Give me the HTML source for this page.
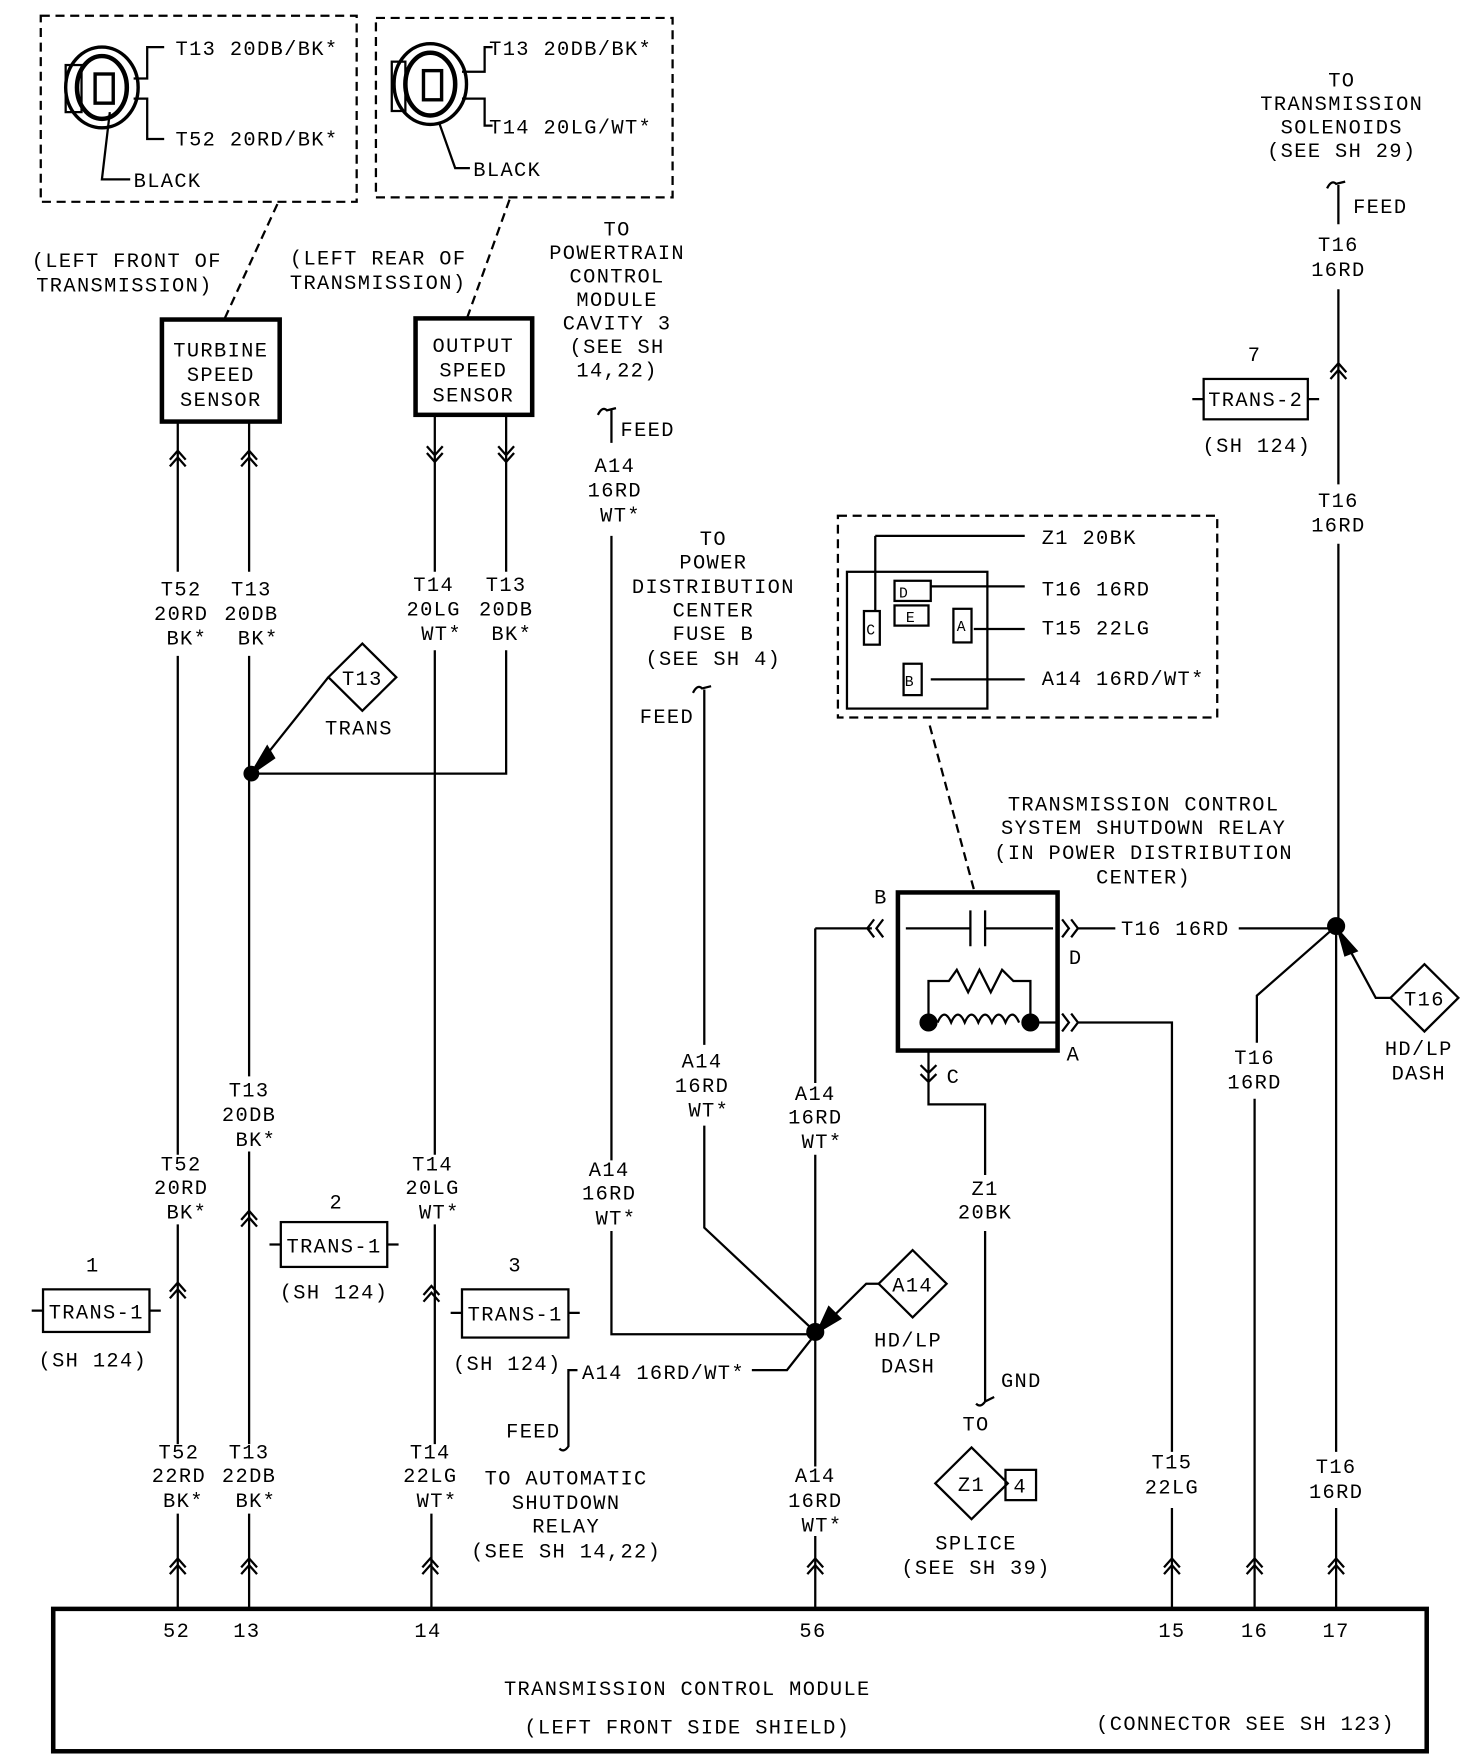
<!DOCTYPE html>
<html><head><meta charset="utf-8"><style>
html,body{margin:0;padding:0;background:#fff;}
svg{display:block;}
text{font-family:"Liberation Mono",monospace;font-size:18px;fill:#000;letter-spacing:1.2px;}
.c{text-anchor:middle;}
</style></head><body>
<svg width="1472" height="1758" viewBox="0 0 1300 1568" preserveAspectRatio="none" xmlns="http://www.w3.org/2000/svg">
<g fill="none" stroke="#000" stroke-width="2">
<!-- top dashed boxes -->
<rect x="36" y="14" width="279" height="166" stroke-dasharray="8,5"/>
<rect x="332" y="16" width="262" height="160" stroke-dasharray="8,5"/>
<path d="M245 182 L198 285 M450 178 L412 285" stroke-dasharray="8,5"/>
<!-- connector 1 -->
<rect x="58" y="58" width="14" height="42"/>
<ellipse cx="90" cy="78" rx="32" ry="36" stroke-width="3"/>
<ellipse cx="90" cy="78" rx="22" ry="28" stroke-width="4"/>
<rect x="84" y="66" width="16" height="26" stroke-width="3"/>
<path d="M118 70 H130 V42 H145 M118 88 H130 V124 H145 M97 100 L90 160 H115"/>
<!-- connector 2 -->
<rect x="346" y="55" width="12" height="44"/>
<ellipse cx="380" cy="75" rx="32" ry="36" stroke-width="3"/>
<ellipse cx="380" cy="75" rx="22" ry="28" stroke-width="4"/>
<rect x="374" y="63" width="16" height="26" stroke-width="3"/>
<path d="M408 64 H428 V42 H435 M408 88 H428 V112 H435 M388 110 L402 150 H415"/>
<!-- sensor boxes -->
<rect x="143" y="285" width="104" height="91" stroke-width="4"/>
<rect x="367" y="284" width="103" height="86" stroke-width="4"/>
<!-- sensor wires -->
<path d="M157 376 V510 M157 585 V1030 M157 1092 V1288 M157 1350 V1435"/>
<path d="M220 376 V510 M220 585 V960 M220 1027 V1288 M220 1350 V1435"/>
<path d="M384 370 V510 M384 580 V1030 M384 1092 V1288 M381 1350 V1435"/>
<path d="M447 370 V510 M447 580 V690 H222"/>
<circle cx="222" cy="690" r="6" fill="#000"/>
<!-- T13 diamond -->
<path d="M320 574 L350 604 L320 634 L290 604 Z"/>
<path d="M290 604 L230 680"/>
<path d="M222 690 L236 666 L242 676 Z" fill="#000"/>
<!-- chevrons upper -->
<path d="M150 410 L157 402 L164 410 M150 416 L157 408 L164 416 M213 410 L220 402 L227 410 M213 416 L220 408 L227 416"/>
<path d="M377 398 L384 406 L391 398 M377 404 L384 412 L391 404 M440 398 L447 406 L454 398 M440 404 L447 412 L454 404"/>
<!-- lower chevrons -->
<path d="M150 1152 L157 1144 L164 1152 M150 1158 L157 1150 L164 1158"/>
<path d="M213 1088 L220 1080 L227 1088 M213 1094 L220 1086 L227 1094"/>
<path d="M374 1155 L381 1147 L388 1155 M374 1161 L381 1153 L388 1161"/>
<path d="M150 1398 L157 1390 L164 1398 M150 1404 L157 1396 L164 1404 M213 1398 L220 1390 L227 1398 M213 1404 L220 1396 L227 1404 M373 1398 L380 1390 L387 1398 M373 1404 L380 1396 L387 1404 M713 1398 L720 1390 L727 1398 M713 1404 L720 1396 L727 1404 M1028 1398 L1035 1390 L1042 1398 M1028 1404 L1035 1396 L1042 1404 M1101 1398 L1108 1390 L1115 1398 M1101 1404 L1108 1396 L1115 1404 M1173 1398 L1180 1390 L1187 1398 M1173 1404 L1180 1396 L1187 1404"/>
<!-- TRANS boxes -->
<rect x="38" y="1150" width="94" height="38"/><path d="M28 1169 H38 M132 1169 H142"/>
<rect x="248" y="1090" width="94" height="40"/><path d="M238 1110 H248 M342 1110 H352"/>
<rect x="408" y="1150" width="94" height="43"/><path d="M398 1171 H408 M502 1171 H512"/>
<rect x="1063" y="338" width="92" height="36"/><path d="M1053 356 H1063 M1155 356 H1165"/>
<!-- TCM box -->
<rect x="47" y="1435" width="1213" height="127" stroke-width="4"/>
<!-- PCM feed line -->
<path d="M528 370 Q532 362 536 366 L544 364 M540 365 V395 M540 478 V1035 M540 1098 V1190 H720"/>
<!-- PDC feed -->
<path d="M612 618 Q616 610 620 614 L628 612 M622 615 V932 M622 1004 V1095 L720 1188"/>
<!-- A14 vertical -->
<path d="M720 828 V966 M720 1030 V1308 M720 1370 V1435 M720 828 H770"/>
<circle cx="720" cy="1188" r="7" fill="#000"/>
<path d="M806 1115 L836 1145 L806 1175 L776 1145 Z"/>
<path d="M776 1145 H765 L728 1182"/>
<path d="M722 1188 L732 1166 L742 1176 Z" fill="#000"/>
<path d="M720 1190 L695 1222 H664"/>
<path d="M510 1222 H502 V1290 Q498 1296 494 1292"/>
<!-- relay -->
<rect x="793" y="796" width="141" height="141" stroke-width="4"/>
<path d="M800 828 H857 M870 828 H930 M857 812 V844 M870 812 V844"/>
<path d="M820 912 V875 H838 L845 865 L855 885 L865 865 L875 885 L885 865 L895 875 H910 V912"/>
<path d="M828 912 q6 -14 12 0 q6 -14 12 0 q6 -14 12 0 q6 -14 12 0 q6 -14 12 0 q6 -14 12 0"/>
<circle cx="820" cy="912" r="7" fill="#000"/><circle cx="910" cy="912" r="7" fill="#000"/>
<path d="M910 912 H935"/>
<path d="M772 820 L766 828 L772 836 M780 820 L774 828 L780 836"/>
<path d="M938 820 L944 828 L938 836 M946 820 L952 828 L946 836 M952 828 H985 M1094 828 H1178"/>
<path d="M938 904 L944 912 L938 920 M946 904 L952 912 L946 920 M952 912 H1035 V1295 M1035 1345 V1435"/>
<path d="M813 950 L820 957 L827 950 M813 958 L820 965 L827 958 M820 937 V985 H870 V1048 M870 1098 V1250 Q866 1256 862 1252 M870 1250 L878 1246"/>
<!-- relay detail dashed box -->
<rect x="740" y="460" width="335" height="180" stroke-dasharray="8,5"/>
<path d="M860 793 L820 643" stroke-dasharray="8,5"/>
<rect x="748" y="510" width="124" height="122"/>
<path d="M773 478 H905 M773 478 V545"/>
<rect x="763" y="545" width="14" height="30"/>
<rect x="790" y="518" width="32" height="18"/><rect x="790" y="540" width="30" height="18"/>
<path d="M822 523 H905 M860 561 H905 M822 606 H905"/>
<rect x="842" y="543" width="16" height="30"/>
<rect x="798" y="592" width="16" height="28"/>
<!-- right column -->
<path d="M1172 168 Q1176 160 1180 164 L1188 162 M1182 165 V200 M1182 258 V432 M1182 485 V826 M1180 826 V1295 M1180 1345 V1435"/>
<path d="M1175 332 L1182 324 L1189 332 M1175 338 L1182 330 L1189 338"/>
<circle cx="1180" cy="826" r="7" fill="#000"/>
<path d="M1180 826 L1110 888 V930 M1108 980 V1435"/>
<path d="M1258 860 L1288 890 L1258 920 L1228 890 Z"/>
<path d="M1228 890 H1215 L1186 836"/>
<path d="M1182 830 L1198 848 L1188 852 Z" fill="#000"/>
<!-- splice diamond -->
<path d="M858 1291 L890 1323 L858 1355 L826 1323 Z"/>
<rect x="888" y="1311" width="27" height="27"/>
</g>
<!-- TEXT -->
<text x="155" y="49">T13 20DB/BK*</text>
<text x="155" y="130">T52 20RD/BK*</text>
<text x="118" y="167">BLACK</text>
<text x="432" y="49">T13 20DB/BK*</text>
<text x="432" y="119">T14 20LG/WT*</text>
<text x="418" y="157">BLACK</text>
<text x="28" y="238">(LEFT FRONT OF</text>
<text x="32" y="260">TRANSMISSION)</text>
<text x="256" y="236">(LEFT REAR OF</text>
<text x="256" y="258">TRANSMISSION)</text>
<text class="c" x="195" y="318">TURBINE</text><text class="c" x="195" y="340">SPEED</text><text class="c" x="195" y="362">SENSOR</text>
<text class="c" x="418" y="314">OUTPUT</text><text class="c" x="418" y="336">SPEED</text><text class="c" x="418" y="358">SENSOR</text>
<text class="c" x="160" y="531">T52</text><text class="c" x="160" y="553">20RD</text><text class="c" x="165" y="575">BK*</text>
<text class="c" x="222" y="531">T13</text><text class="c" x="222" y="553">20DB</text><text class="c" x="228" y="575">BK*</text>
<text class="c" x="383" y="527">T14</text><text class="c" x="383" y="549">20LG</text><text class="c" x="390" y="571">WT*</text>
<text class="c" x="447" y="527">T13</text><text class="c" x="447" y="549">20DB</text><text class="c" x="452" y="571">BK*</text>
<text class="c" x="320" y="611">T13</text><text class="c" x="317" y="655">TRANS</text>
<text class="c" x="160" y="1044">T52</text><text class="c" x="160" y="1065">20RD</text><text class="c" x="165" y="1087">BK*</text>
<text class="c" x="220" y="978">T13</text><text class="c" x="220" y="1000">20DB</text><text class="c" x="226" y="1022">BK*</text>
<text class="c" x="382" y="1044">T14</text><text class="c" x="382" y="1065">20LG</text><text class="c" x="388" y="1087">WT*</text>
<text class="c" x="82" y="1134">1</text><text class="c" x="85" y="1176">TRANS-1</text><text class="c" x="82" y="1219">(SH 124)</text>
<text class="c" x="297" y="1078">2</text><text class="c" x="295" y="1117">TRANS-1</text><text class="c" x="295" y="1158">(SH 124)</text>
<text class="c" x="455" y="1134">3</text><text class="c" x="455" y="1178">TRANS-1</text><text class="c" x="448" y="1222">(SH 124)</text>
<text class="c" x="1108" y="322">7</text><text class="c" x="1109" y="362">TRANS-2</text><text class="c" x="1110" y="403">(SH 124)</text>
<text class="c" x="158" y="1301">T52</text><text class="c" x="158" y="1322">22RD</text><text class="c" x="162" y="1344">BK*</text>
<text class="c" x="220" y="1301">T13</text><text class="c" x="220" y="1322">22DB</text><text class="c" x="226" y="1344">BK*</text>
<text class="c" x="380" y="1301">T14</text><text class="c" x="380" y="1322">22LG</text><text class="c" x="386" y="1344">WT*</text>
<text class="c" x="156" y="1460">52</text><text class="c" x="218" y="1460">13</text><text class="c" x="378" y="1460">14</text><text class="c" x="718" y="1460">56</text><text class="c" x="1035" y="1460">15</text><text class="c" x="1108" y="1460">16</text><text class="c" x="1180" y="1460">17</text>
<text class="c" x="607" y="1512">TRANSMISSION CONTROL MODULE</text>
<text class="c" x="607" y="1546">(LEFT FRONT SIDE SHIELD)</text>
<text class="c" x="1100" y="1543">(CONNECTOR SEE SH 123)</text>
<text class="c" x="545" y="210">TO</text><text class="c" x="545" y="231">POWERTRAIN</text><text class="c" x="545" y="252">CONTROL</text><text class="c" x="545" y="273">MODULE</text><text class="c" x="545" y="294">CAVITY 3</text><text class="c" x="545" y="315">(SEE SH</text><text class="c" x="545" y="336">14,22)</text>
<text x="548" y="389">FEED</text>
<text class="c" x="543" y="421">A14</text><text class="c" x="543" y="443">16RD</text><text class="c" x="548" y="465">WT*</text>
<text class="c" x="630" y="486">TO</text><text class="c" x="630" y="507">POWER</text><text class="c" x="630" y="529">DISTRIBUTION</text><text class="c" x="630" y="550">CENTER</text><text class="c" x="630" y="571">FUSE B</text><text class="c" x="630" y="593">(SEE SH 4)</text>
<text x="565" y="645">FEED</text>
<text class="c" x="620" y="952">A14</text><text class="c" x="620" y="974">16RD</text><text class="c" x="626" y="996">WT*</text>
<text class="c" x="538" y="1049">A14</text><text class="c" x="538" y="1070">16RD</text><text class="c" x="544" y="1092">WT*</text>
<text class="c" x="720" y="981">A14</text><text class="c" x="720" y="1002">16RD</text><text class="c" x="726" y="1024">WT*</text>
<text class="c" x="806" y="1152">A14</text><text class="c" x="802" y="1201">HD/LP</text><text class="c" x="802" y="1224">DASH</text>
<text x="514" y="1230">A14 16RD/WT*</text>
<text x="447" y="1282">FEED</text>
<text class="c" x="500" y="1324">TO AUTOMATIC</text><text class="c" x="500" y="1346">SHUTDOWN</text><text class="c" x="500" y="1367">RELAY</text><text class="c" x="500" y="1389">(SEE SH 14,22)</text>
<text class="c" x="720" y="1322">A14</text><text class="c" x="720" y="1344">16RD</text><text class="c" x="726" y="1366">WT*</text>
<text class="c" x="1010" y="723">TRANSMISSION CONTROL</text><text class="c" x="1010" y="744">SYSTEM SHUTDOWN RELAY</text><text class="c" x="1010" y="766">(IN POWER DISTRIBUTION</text><text class="c" x="1010" y="788">CENTER)</text>
<text x="772" y="806">B</text><text x="944" y="860">D</text><text x="942" y="946">A</text><text x="836" y="966">C</text>
<text x="990" y="834">T16 16RD</text>
<text class="c" x="870" y="1066">Z1</text><text class="c" x="870" y="1087">20BK</text>
<text x="884" y="1237">GND</text><text class="c" x="862" y="1276">TO</text>
<text class="c" x="858" y="1330">Z1</text><text class="c" x="901" y="1331">4</text>
<text class="c" x="862" y="1382">SPLICE</text><text class="c" x="862" y="1404">(SEE SH 39)</text>
<text x="920" y="485">Z1 20BK</text><text x="920" y="531">T16 16RD</text><text x="920" y="566">T15 22LG</text><text x="920" y="611">A14 16RD/WT*</text>
<text x="794" y="533" style="font-size:13px">D</text><text x="800" y="555" style="font-size:13px">E</text><text x="845" y="563" style="font-size:13px">A</text><text x="799" y="612" style="font-size:13px">B</text><text x="765" y="566" style="font-size:13px">C</text>
<text class="c" x="1035" y="1310">T15</text><text class="c" x="1035" y="1332">22LG</text>
<text class="c" x="1185" y="77">TO</text><text class="c" x="1185" y="98">TRANSMISSION</text><text class="c" x="1185" y="119">SOLENOIDS</text><text class="c" x="1185" y="140">(SEE SH 29)</text>
<text x="1195" y="190">FEED</text>
<text class="c" x="1182" y="224">T16</text><text class="c" x="1182" y="246">16RD</text>
<text class="c" x="1182" y="452">T16</text><text class="c" x="1182" y="474">16RD</text>
<text class="c" x="1108" y="949">T16</text><text class="c" x="1108" y="971">16RD</text>
<text class="c" x="1258" y="897">T16</text><text class="c" x="1253" y="941">HD/LP</text><text class="c" x="1253" y="963">DASH</text>
<text class="c" x="1180" y="1314">T16</text><text class="c" x="1180" y="1336">16RD</text>
</svg>
</body></html>
